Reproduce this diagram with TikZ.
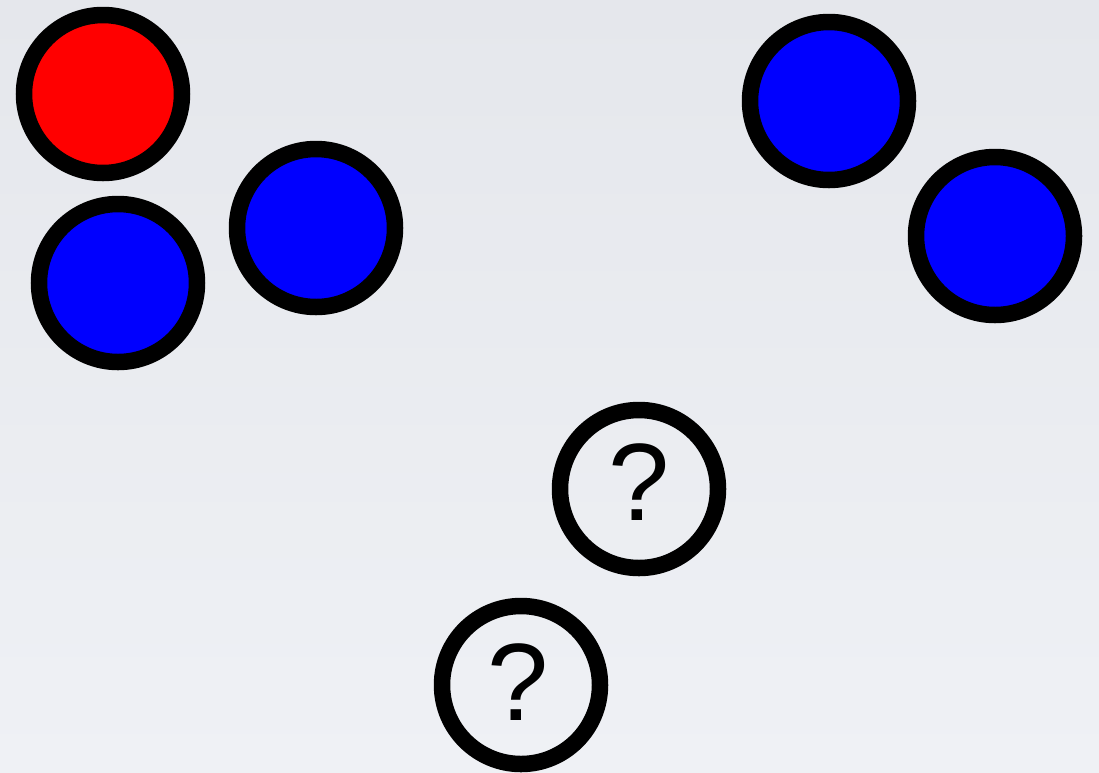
\documentclass[tikz,border=0pt]{standalone}
\usepackage{fontspec}
\setmainfont{Liberation Sans}
\definecolor{bgtop}{RGB}{229,231,236}
\definecolor{bgbot}{RGB}{239,241,245}
\definecolor{pureblue}{RGB}{0,0,255}
\definecolor{purered}{RGB}{255,0,0}
\begin{document}
\begin{tikzpicture}[x=1pt,y=-1pt,
  ball/.style={circle, draw=black, line width=16.5pt, minimum size=158pt, inner sep=0pt},
  qmark/.style={font=\fontsize{110}{110}\selectfont, anchor=base, inner sep=0pt}]
\shade[top color=bgtop, bottom color=bgbot] (0,0) rectangle (1099,772);
\useasboundingbox (0,0) rectangle (1099,772);
\node[ball, fill=purered] (r1) at (103,94) {};
\node[ball, fill=pureblue] (b1) at (118,283) {};
\node[ball, fill=pureblue] (b2) at (316,228) {};
\node[ball, fill=pureblue] (b3) at (829,101) {};
\node[ball, fill=pureblue] (b4) at (995,236) {};
\node[ball] (q1) at (639,489) {};
\node[ball] (q2) at (521,685) {};
\node[qmark] (t1) at (639,520) {?};
\node[qmark] (t2) at (518,720) {?};
\end{tikzpicture}
\end{document}
